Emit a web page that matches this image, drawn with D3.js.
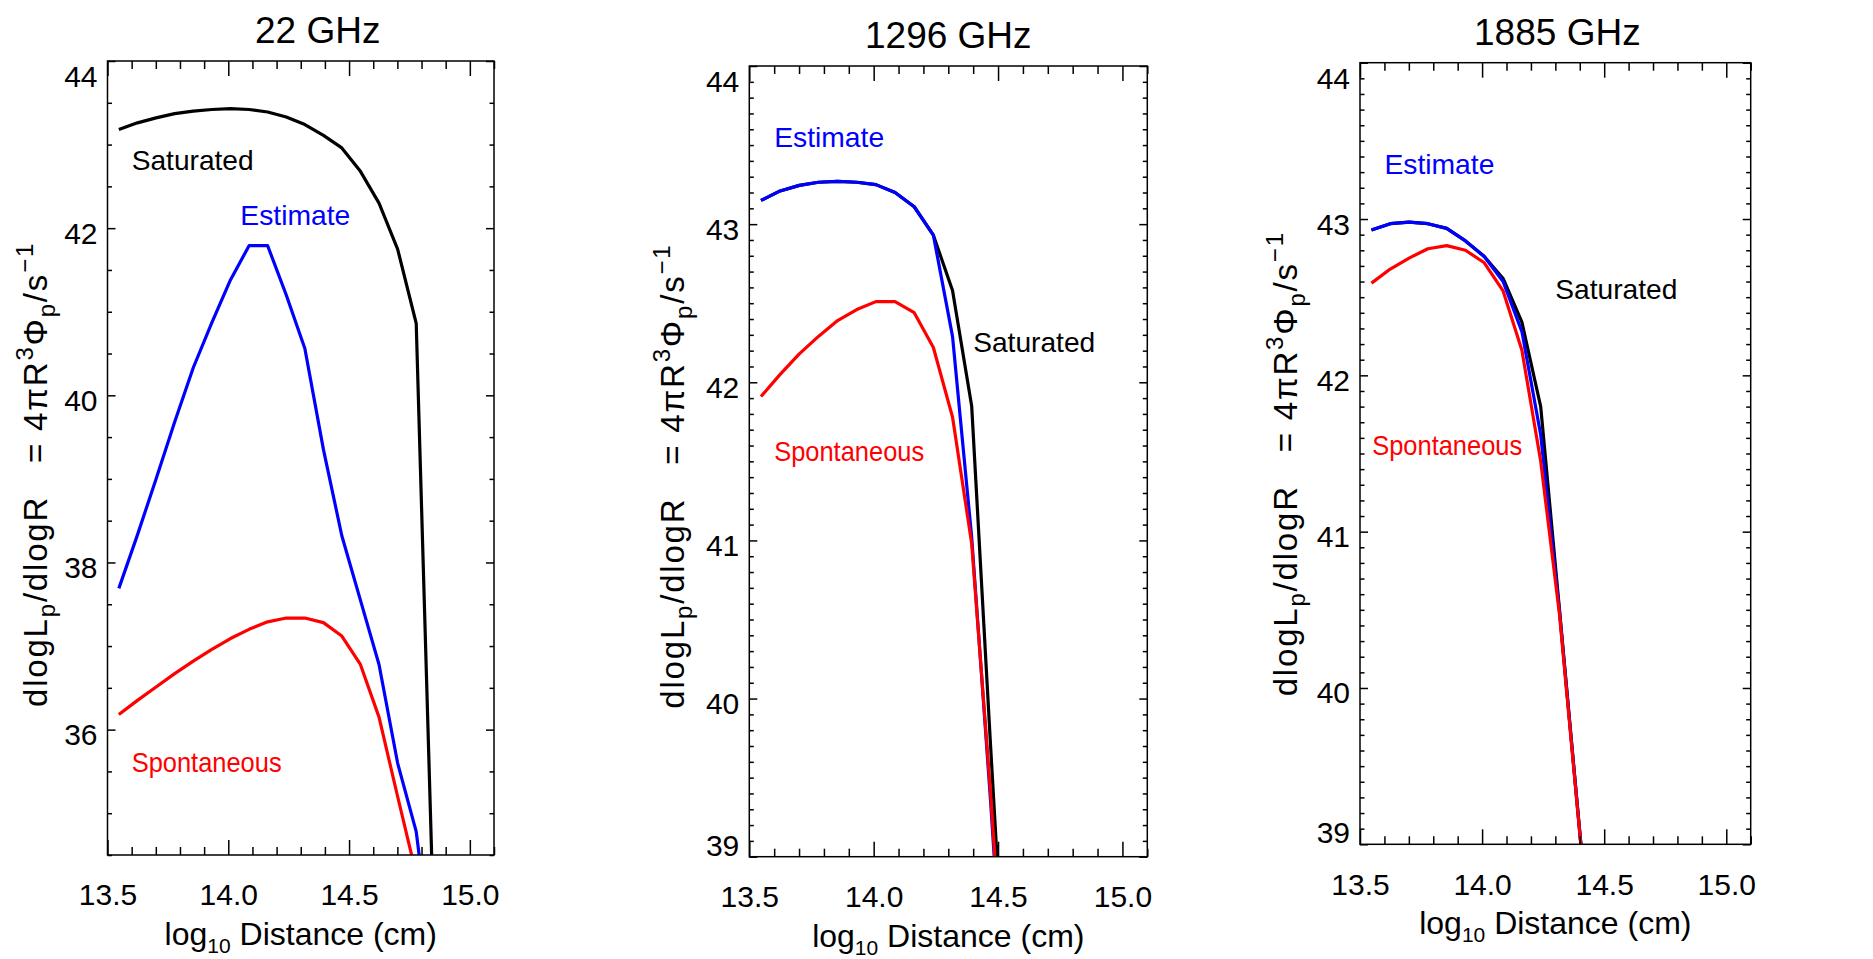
<!DOCTYPE html>
<html>
<head>
<meta charset="utf-8">
<script src="https://cdn.jsdelivr.net/npm/d3@7"></script>
<style>
  body { margin: 0; background: #fff; }
  svg { display: block; font-family: "Liberation Sans", Arial, sans-serif; }
</style>
</head>
<body>
<svg id="chart" width="1873" height="959"></svg>
<script>
// log10 distance grid (cm)
var dist = [13.547, 13.624, 13.701, 13.778, 13.855, 13.932, 14.009, 14.086, 14.163,
            14.240, 14.317, 14.394, 14.470, 14.547, 14.624, 14.701, 14.778, 14.855];

// 22 GHz
var sat22  = [43.18, 43.26, 43.32, 43.37, 43.40, 43.42, 43.43, 43.42, 43.39,
              43.33, 43.24, 43.11, 42.96, 42.68, 42.30, 41.75, 40.86, 33.2];
var est22  = [37.69, 38.33, 39.00, 39.68, 40.33, 40.87, 41.38, 41.79, 41.79,
              41.20, 40.56, 39.35, 38.32, 37.55, 36.78, 35.60, 34.78, 33.0];
var spon22 = [36.18, 36.35, 36.51, 36.67, 36.82, 36.96, 37.09, 37.20, 37.29,
              37.335, 37.335, 37.28, 37.12, 36.78, 36.15, 35.20, 34.27];

// 1296 GHz
var sat1296  = [43.15, 43.21, 43.245, 43.265, 43.27, 43.265, 43.25, 43.20, 43.11,
                42.93, 42.58, 41.85, 39.70, 37.6];
var est1296  = [43.15, 43.21, 43.245, 43.265, 43.27, 43.265, 43.25, 43.20, 43.11,
                42.93, 42.29, 41.02, 39.35, 37.5];
var spon1296 = [41.91, 42.05, 42.18, 42.29, 42.39, 42.46, 42.51, 42.51, 42.44,
                42.22, 41.78, 40.98, 39.40, 37.6];

// 1885 GHz
var sat1885  = [42.93, 42.97, 42.98, 42.97, 42.94, 42.86, 42.76, 42.62, 42.34,
                41.80, 40.50, 39.18, 37.9];
var est1885  = [42.93, 42.97, 42.98, 42.97, 42.94, 42.86, 42.76, 42.60, 42.28,
                41.62, 40.49, 39.18, 37.9];
var spon1885 = [42.59, 42.68, 42.75, 42.81, 42.83, 42.80, 42.72, 42.54, 42.16,
                41.45, 40.47, 39.17, 37.9];

var titles = ["22 GHz", "1296 GHz", "1885 GHz"];
var xDomain = [13.5, 15.1];
var xMajorTicks = [13.5, 14.0, 14.5, 15.0];
var yDomains = [[34.5, 44], [39, 44], [39, 44]];
var yMajorTicks = [[36, 38, 40, 42, 44], [39, 40, 41, 42, 43, 44], [39, 40, 41, 42, 43, 44]];
var yMinorStep = [0.5, 0.1, 0.1];

var labelNames = ["Saturated", "Estimate", "Spontaneous"];
var satLabelAt  = [[13.60, 42.70], [14.40, 42.19], [14.30, 42.49]];
var estLabelAt  = [[14.05, 42.04], [13.60, 43.49], [13.60, 43.29]];
var sponLabelAt = [[13.60, 35.49], [13.60, 41.50], [13.55, 41.49]];

var series = [
  [sat22, est22, spon22],
  [sat1296, est1296, spon1296],
  [sat1885, est1885, spon1885]
];
var labelAt = [
  [satLabelAt[0], estLabelAt[0], sponLabelAt[0]],
  [satLabelAt[1], estLabelAt[1], sponLabelAt[1]],
  [satLabelAt[2], estLabelAt[2], sponLabelAt[2]]
];

// layout
var boxes = [
  {l: 107.5, r: 494,    t: 61,   b: 855},
  {l: 749.3, r: 1147.3, t: 66,   b: 856.7},
  {l: 1360,  r: 1750.7, t: 62.7, b: 844.3}
];
var titleDx = [17, 0, 2];
var yTitleDx = [60.5, 65, 63];
var colors = ["#000000", "#0000ff", "#ff0000"];
var labelWidths = [122, 110, 150];

var svg = d3.select("#chart");
var defs = svg.append("defs");

boxes.forEach(function(box, i) {
    var x = d3.scaleLinear().domain(xDomain).range([box.l, box.r]);
    var y = d3.scaleLinear().domain(yDomains[i]).range([box.b, box.t]);
    var g = svg.append("g");

    defs.append("clipPath").attr("id", "clip" + i)
        .append("rect")
        .attr("x", box.l).attr("y", box.t)
        .attr("width", box.r - box.l).attr("height", box.b - box.t);

    // curves: black, blue, red (red on top)
    var line = d3.line().x(function(d){ return x(d[0]); }).y(function(d){ return y(d[1]); });
    series[i].forEach(function(vals, k) {
        g.append("path")
         .datum(d3.zip(dist.slice(0, vals.length), vals))
         .attr("clip-path", "url(#clip" + i + ")")
         .attr("d", line)
         .attr("fill", "none")
         .attr("stroke", colors[k])
         .attr("stroke-width", 3.2)
         .attr("stroke-linejoin", "round");
    });

    // minor tick values
    var xMinor = d3.range(13.6, 15.1001, 0.1).filter(function(v){
        return xMajorTicks.every(function(m){ return Math.abs(m - v) > 1e-6; });
    });
    var yd = yDomains[i];
    var yMinor = d3.range(Math.ceil(yd[0] / yMinorStep[i]) * yMinorStep[i], yd[1] + 1e-6, yMinorStep[i])
        .filter(function(v){
            return yMajorTicks[i].every(function(m){ return Math.abs(m - v) > 1e-6; });
        });

    function styleAxis(sel) {
        sel.select(".domain").remove();
        sel.selectAll(".tick line").attr("stroke", "#000").attr("stroke-width", 1.5);
        sel.attr("font-family", null).attr("font-size", null);
    }

    // bottom
    g.append("g").attr("transform", "translate(0," + box.b + ")")
     .call(d3.axisBottom(x).tickValues(xMinor).tickSize(-8).tickFormat(""))
     .call(styleAxis);
    var xb = g.append("g").attr("transform", "translate(0," + box.b + ")")
     .call(d3.axisBottom(x).tickValues(xMajorTicks).tickSize(-15).tickPadding(29)
           .tickFormat(d3.format(".1f")))
     .call(styleAxis);
    xb.selectAll("text").attr("font-size", 30).attr("fill", "#000");
    // top
    g.append("g").attr("transform", "translate(0," + box.t + ")")
     .call(d3.axisTop(x).tickValues(xMinor).tickSize(-8).tickFormat(""))
     .call(styleAxis);
    g.append("g").attr("transform", "translate(0," + box.t + ")")
     .call(d3.axisTop(x).tickValues(xMajorTicks).tickSize(-15).tickFormat(""))
     .call(styleAxis);
    // left
    g.append("g").attr("transform", "translate(" + box.l + ",0)")
     .call(d3.axisLeft(y).tickValues(yMinor).tickSize(-4.5).tickFormat(""))
     .call(styleAxis);
    var yl = g.append("g").attr("transform", "translate(" + box.l + ",0)")
     .call(d3.axisLeft(y).tickValues(yMajorTicks[i]).tickSize(-8).tickPadding(10)
           .tickFormat(d3.format("d")))
     .call(styleAxis);
    yl.selectAll("text").attr("font-size", 30).attr("fill", "#000")
      .attr("dy", function(d){
          if (d === yd[1]) return "0.85em";
          if (d === yd[0]) return "-0.05em";
          return "0.5em";
      });
    // right
    g.append("g").attr("transform", "translate(" + box.r + ",0)")
     .call(d3.axisRight(y).tickValues(yMinor).tickSize(-4.5).tickFormat(""))
     .call(styleAxis);
    g.append("g").attr("transform", "translate(" + box.r + ",0)")
     .call(d3.axisRight(y).tickValues(yMajorTicks[i]).tickSize(-8).tickFormat(""))
     .call(styleAxis);

    // frame
    g.append("rect")
     .attr("x", box.l).attr("y", box.t)
     .attr("width", box.r - box.l).attr("height", box.b - box.t)
     .attr("fill", "none").attr("stroke", "#000").attr("stroke-width", 1.5);

    // series labels
    labelAt[i].forEach(function(pos, k) {
        g.append("text")
         .attr("x", x(pos[0])).attr("y", y(pos[1]))
         .attr("font-size", 28)
         .attr("fill", colors[k])
         .attr("textLength", labelWidths[k])
         .attr("lengthAdjust", "spacingAndGlyphs")
         .text(labelNames[k]);
    });

    // panel title
    g.append("text")
     .attr("x", (box.l + box.r) / 2 + titleDx[i]).attr("y", box.t - 18)
     .attr("text-anchor", "middle").attr("font-size", 37)
     .text(titles[i]);

    // x axis title
    var xt = g.append("text")
     .attr("x", (box.l + box.r) / 2).attr("y", box.b + 90)
     .attr("text-anchor", "middle").attr("font-size", 32)
     .style("white-space", "pre");
    xt.append("tspan").text("log");
    xt.append("tspan").attr("font-size", 21).attr("dy", 8).text("10");
    xt.append("tspan").attr("dy", -8).text(" Distance (cm)");

    // y axis title
    var yt = g.append("text")
     .attr("transform", "translate(" + (box.l - yTitleDx[i]) + "," + (box.b - 148) + ") rotate(-90)")
     .attr("text-anchor", "start").attr("font-size", 33)
     .attr("letter-spacing", 1.8)
     .style("white-space", "pre");
    yt.append("tspan").text("dlogL");
    yt.append("tspan").attr("font-size", 24).attr("dy", 8).text("p");
    yt.append("tspan").attr("dy", -8).text("/dlogR   = 4\u03c0R");
    yt.append("tspan").attr("font-size", 24).attr("dy", -14).text("3");
    yt.append("tspan").attr("dy", 14).text("\u03a6");
    yt.append("tspan").attr("font-size", 24).attr("dy", 8).text("p");
    yt.append("tspan").attr("dy", -8).text("/s");
    yt.append("tspan").attr("font-size", 24).attr("dy", -14).text("\u22121");
});
</script>
</body>
</html>
